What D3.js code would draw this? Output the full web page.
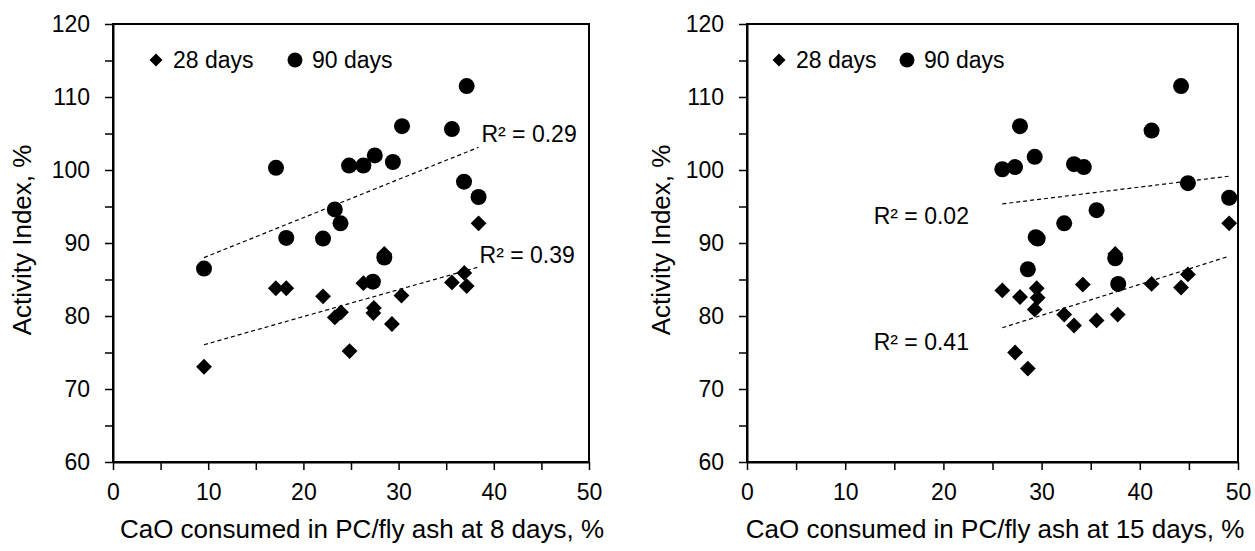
<!DOCTYPE html>
<html>
<head>
<meta charset="utf-8">
<script src="https://cdn.jsdelivr.net/npm/d3@7"></script>
<style>
  body { margin: 0; background: #fff; }
  text { font-family: Arial, "Liberation Sans", sans-serif; fill: #000; }
</style>
</head>
<body>
<script>
// values
const ages = ["28 days", "90 days"];

// CaO consumed at 8 days vs activity index
const cao8_28 = [9.56, 17.1, 18.2, 22.06, 23.3, 23.95, 24.85, 26.3, 27.35, 27.4, 28.5, 29.3, 30.3, 35.6, 36.9, 37.15, 38.4];
const ai8_28 = [73.05, 83.8, 83.8, 82.7, 79.8, 80.5, 75.2, 84.5, 80.4, 81.1, 88.5, 78.9, 82.8, 84.6, 85.9, 84.1, 92.7];
const cao8_90 = [9.56, 17.12, 18.2, 22.06, 23.3, 23.9, 24.8, 26.3, 27.3, 27.5, 28.5, 29.4, 30.36, 35.6, 36.87, 37.15, 38.4];
const ai8_90 = [86.5, 100.3, 90.7, 90.6, 94.6, 92.7, 100.6, 100.6, 84.7, 102.0, 88.0, 101.1, 106.0, 105.6, 98.4, 111.5, 96.3];

// CaO consumed at 15 days vs activity index
const cao15_28 = [26.0, 27.3, 27.8, 28.6, 29.3, 29.5, 29.6, 32.3, 33.3, 34.2, 35.6, 37.5, 37.75, 41.2, 44.2, 44.9, 49.1];
const ai15_28 = [83.5, 75.0, 82.6, 72.8, 80.9, 83.8, 82.5, 80.2, 78.7, 84.3, 79.4, 88.5, 80.2, 84.4, 83.9, 85.7, 92.7];
const cao15_90 = [26.0, 27.3, 27.8, 28.6, 29.3, 29.4, 29.6, 32.3, 33.3, 34.3, 35.6, 37.5, 37.8, 41.2, 44.2, 44.9, 49.1];
const ai15_90 = [100.1, 100.4, 106.0, 86.4, 101.8, 90.8, 90.6, 92.7, 100.8, 100.4, 94.5, 87.9, 84.4, 105.4, 111.5, 98.2, 96.2];

// linear trend lines as drawn (slope, intercept) and their R²
const fit8 = [[0.369, 72.54], [0.524, 82.99]];
const fit15 = [[0.424, 67.37], [0.164, 91.1]];
const r2_8 = ["R² = 0.39", "R² = 0.29"];
const r2_15 = ["R² = 0.41", "R² = 0.02"];

const xTicks = d3.range(0, 51, 5);
const yTicks = d3.range(60, 121, 5);

const W = 1255, H = 551;
const svg = d3.select("body").append("svg")
  .attr("width", W)
  .attr("height", H);

const panels = [
  {
    left: 113, width: 476,
    xs: [cao8_28, cao8_90], ys: [ai8_28, ai8_90], fits: fit8, r2: r2_8,
    r2At: [[38.5, 87.3], [38.7, 103.8]],
    legendX: [43, 182],
    xTitle: "CaO consumed in PC/fly ash at 8 days, %", xTitleX: 249, yTitleX: -82
  },
  {
    left: 747, width: 491,
    xs: [cao15_28, cao15_90], ys: [ai15_28, ai15_90], fits: fit15, r2: r2_15,
    r2At: [[12.9, 75.3], [12.9, 92.6]],
    legendX: [32, 160],
    xTitle: "CaO consumed in PC/fly ash at 15 days, %", xTitleX: 248, yTitleX: -77
  }
];

const plotTop = 24, plotH = 438;
const diamond = d3.symbol().type(d3.symbolSquare).size(125)();
const legendDiamond = d3.symbol().type(d3.symbolSquare).size(85)();

function marker(sel, k, small) {
  if (k === 0) {
    sel.append("path").attr("d", small ? legendDiamond : diamond)
      .attr("transform", "rotate(45)").attr("fill", "#000");
  } else {
    sel.append("circle").attr("r", small ? 7.5 : 8).attr("fill", "#000");
  }
}

panels.forEach(p => {
  const g = svg.append("g").attr("transform", `translate(${p.left},${plotTop})`);
  const x = d3.scaleLinear().domain([0, 50]).range([0, p.width]);
  const y = d3.scaleLinear().domain([60, 120]).range([plotH, 0]);

  // frame
  g.append("rect")
    .attr("width", p.width).attr("height", plotH)
    .attr("fill", "none").attr("stroke", "#000").attr("stroke-width", 2);

  const xAxis = g.append("g")
    .attr("transform", `translate(0,${plotH})`)
    .call(d3.axisBottom(x).tickValues(xTicks).tickSize(8).tickSizeOuter(0).tickPadding(14)
      .tickFormat(d => d % 10 === 0 ? d : ""));
  const yAxis = g.append("g")
    .call(d3.axisLeft(y).tickValues(yTicks).tickSize(8).tickSizeOuter(0).tickPadding(15)
      .tickFormat(d => d % 10 === 0 ? d : ""));
  [xAxis, yAxis].forEach(a => {
    a.select(".domain").attr("stroke-width", 2);
    a.selectAll(".tick line").attr("stroke-width", 1.5);
    a.selectAll("text").attr("font-size", 23).attr("font-family", "Arial, 'Liberation Sans', sans-serif");
  });

  // trend lines
  p.fits.forEach((f, k) => {
    const ext = d3.extent(p.xs[k]);
    const line = d3.line().x(d => x(d)).y(d => y(f[0] * d + f[1]));
    g.append("path")
      .attr("d", line(ext))
      .attr("fill", "none").attr("stroke", "#000")
      .attr("stroke-width", 1.2).attr("stroke-dasharray", "4,3");
    g.append("text")
      .attr("x", x(p.r2At[k][0])).attr("y", y(p.r2At[k][1]))
      .attr("font-size", 23)
      .text(p.r2[k]);
  });

  // points: 28 days then 90 days
  [0, 1].forEach(k => {
    const pts = p.xs[k].map((v, i) => [v, p.ys[k][i]]);
    g.append("g").selectAll("g")
      .data(pts)
      .join("g")
      .attr("transform", d => `translate(${x(d[0])},${y(d[1])})`)
      .each(function () { marker(d3.select(this), k, false); });
  });

  // legend
  ages.forEach((a, k) => {
    const lg = g.append("g").attr("transform", `translate(${p.legendX[k]},36)`);
    marker(lg, k, true);
    lg.append("text").attr("x", 17).attr("y", 8).attr("font-size", 23).text(a);
  });

  // axis titles
  g.append("text")
    .attr("x", p.xTitleX).attr("y", plotH + 76)
    .attr("text-anchor", "middle").attr("font-size", 26)
    .text(p.xTitle);
  g.append("text")
    .attr("transform", `translate(${p.yTitleX},216) rotate(-90)`)
    .attr("text-anchor", "middle").attr("font-size", 26)
    .text("Activity Index, %");
});
</script>
</body>
</html>
